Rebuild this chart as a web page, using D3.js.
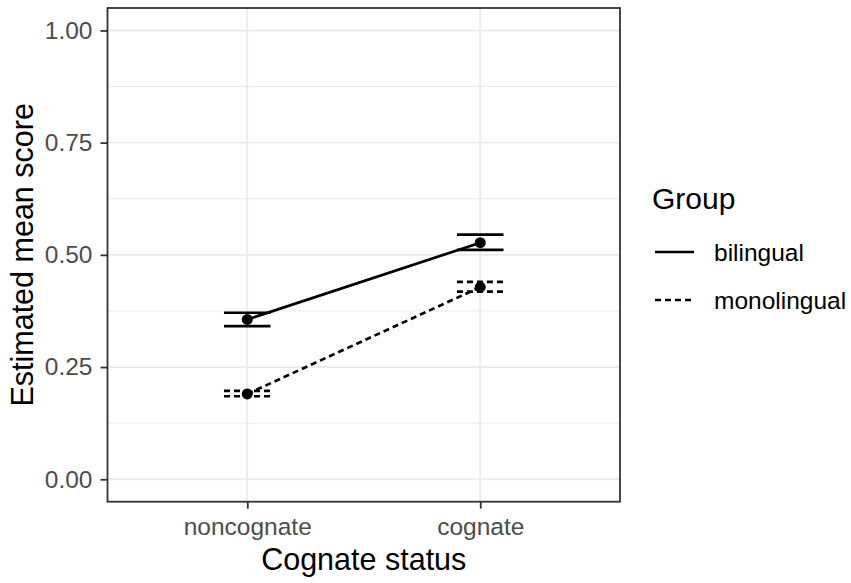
<!DOCTYPE html>
<html>
<head>
<meta charset="utf-8">
<script src="https://cdn.jsdelivr.net/npm/d3@7"></script>
<style>
  body { margin: 0; background: #fff; }
  text { font-family: "Liberation Sans", Arial, sans-serif; }
</style>
</head>
<body>
<script>
// chart values
var categories = ["noncognate", "cognate"];
var groups = ["bilingual", "monolingual"];
var dashes = ["none", "6,4"];
var meanScore = { bilingual: [0.356, 0.527], monolingual: [0.190, 0.428] };
var lowerCI   = { bilingual: [0.341, 0.511], monolingual: [0.185, 0.418] };
var upperCI   = { bilingual: [0.371, 0.545], monolingual: [0.197, 0.440] };
var yTicks = [0, 0.25, 0.5, 0.75, 1];
var yMinor = [0.125, 0.375, 0.625, 0.875];

var W = 851, H = 583;
var margin = {top: 8, left: 107.5, right: 231, bottom: 81.3};
var width = W - margin.left - margin.right,
    height = H - margin.top - margin.bottom;

var svg = d3.select("body").append("svg").attr("width", W).attr("height", H);
var g = svg.append("g").attr("transform", "translate(" + margin.left + "," + margin.top + ")");

var x = d3.scalePoint().domain(categories).range([0, width]).padding(0.6);
var y = d3.scaleLinear().domain([-0.05, 1.05]).range([height, 0]);
var halfBar = x.step() * 0.1;

// grid
g.selectAll(".minor").data(yMinor).enter().append("line")
  .attr("x1", 0).attr("x2", width)
  .attr("y1", d => y(d)).attr("y2", d => y(d))
  .attr("stroke", "#ebebeb").attr("stroke-width", 1);
g.selectAll(".major").data(yTicks).enter().append("line")
  .attr("x1", 0).attr("x2", width)
  .attr("y1", d => y(d)).attr("y2", d => y(d))
  .attr("stroke", "#ebebeb").attr("stroke-width", 1.9);
g.selectAll(".xgrid").data(categories).enter().append("line")
  .attr("x1", d => x(d)).attr("x2", d => x(d))
  .attr("y1", 0).attr("y2", height)
  .attr("stroke", "#ebebeb").attr("stroke-width", 1.9);

// error bars, lines, points
groups.forEach(function(grp, gi) {
  var rows = categories.map(function(c, i) {
    return {cat: c, m: meanScore[grp][i], lo: lowerCI[grp][i], hi: upperCI[grp][i]};
  });
  rows.forEach(function(r) {
    [r.lo, r.hi].forEach(function(v) {
      g.append("line")
        .attr("x1", x(r.cat) - halfBar).attr("x2", x(r.cat) + halfBar)
        .attr("y1", y(v)).attr("y2", y(v))
        .attr("stroke", "#000").attr("stroke-width", 2.7)
        .attr("stroke-dasharray", dashes[gi]);
    });
  });
  var line = d3.line().x(d => x(d.cat)).y(d => y(d.m));
  g.append("path").datum(rows)
    .attr("d", line).attr("fill", "none")
    .attr("stroke", "#000").attr("stroke-width", 2.7)
    .attr("stroke-dasharray", dashes[gi]);
  g.selectAll(".pt" + gi).data(rows).enter().append("circle")
    .attr("cx", d => x(d.cat)).attr("cy", d => y(d.m))
    .attr("r", 5.5).attr("fill", "#000");
});

// panel border
g.append("rect").attr("width", width).attr("height", height)
  .attr("fill", "none").attr("stroke", "#333").attr("stroke-width", 1.8);

// axes
var yAxis = g.append("g")
  .call(d3.axisLeft(y).tickValues(yTicks).tickFormat(d3.format(".2f")).tickSize(7).tickPadding(8));
yAxis.select(".domain").remove();
yAxis.selectAll("line").attr("stroke", "#333").attr("stroke-width", 1.8);
yAxis.selectAll("text").attr("fill", "#4d4d4d").style("font-size", "24.5px")
  .style("font-family", "Liberation Sans, Arial, sans-serif");

var xAxis = g.append("g").attr("transform", "translate(0," + height + ")")
  .call(d3.axisBottom(x).tickSize(7).tickPadding(6));
xAxis.select(".domain").remove();
xAxis.selectAll("line").attr("stroke", "#333").attr("stroke-width", 1.8);
xAxis.selectAll("text").attr("fill", "#4d4d4d").style("font-size", "24.5px")
  .style("font-family", "Liberation Sans, Arial, sans-serif")
  .attr("dy", null).attr("y", 33);

// axis titles
svg.append("text").attr("x", margin.left + width / 2).attr("y", 570)
  .attr("text-anchor", "middle").style("font-size", "30.5px").attr("fill", "#000")
  .text("Cognate status");
svg.append("text")
  .attr("transform", "translate(33," + (margin.top + height / 2) + ") rotate(-90)")
  .attr("text-anchor", "middle").style("font-size", "30.5px").attr("fill", "#000")
  .text("Estimated mean score");

// legend
var lg = svg.append("g").attr("transform", "translate(652,0)");
lg.append("text").attr("x", 0).attr("y", 209).style("font-size", "30px").text("Group");
groups.forEach(function(grp, gi) {
  var ky = 252 + gi * 48;
  lg.append("line").attr("x1", 3).attr("x2", 42).attr("y1", ky).attr("y2", ky)
    .attr("stroke", "#000").attr("stroke-width", 2.7).attr("stroke-dasharray", dashes[gi]);
  lg.append("text").attr("x", 62).attr("y", ky + 8.5).style("font-size", "24.5px").text(grp);
});
</script>
</body>
</html>
